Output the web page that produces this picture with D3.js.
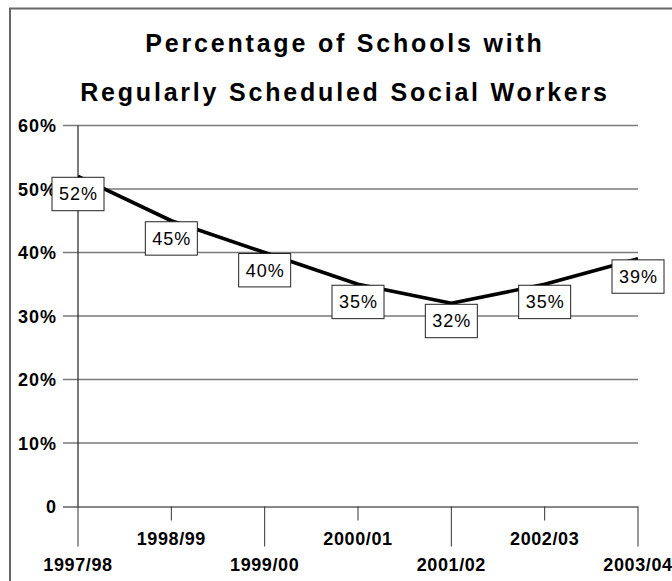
<!DOCTYPE html>
<html>
<head>
<meta charset="utf-8">
<script src="https://cdn.jsdelivr.net/npm/d3@7"></script>
<style>
  body { margin: 0; background: #fff; }
  text { font-family: "Liberation Sans", Arial, sans-serif; }
</style>
</head>
<body>
<svg id="chart" width="672" height="581"></svg>
<script>
// School years on the horizontal axis
const years = ["1997/98", "1998/99", "1999/00", "2000/01", "2001/02", "2002/03", "2003/04"];
// Share of schools with a regularly scheduled social worker (percent)
const percentages = [52, 45, 40, 35, 32, 35, 39];
// Value axis ticks (percent)
const yTicks = [0, 10, 20, 30, 40, 50, 60];
const titleLines = ["Percentage of Schools with", "Regularly Scheduled Social Workers"];

const svg = d3.select("#chart");

const x = d3.scalePoint().domain(years).range([78, 638]);
const y = d3.scaleLinear().domain([0, 60]).range([506.5, 125.5]);

// outer frame (runs off the right and bottom edges)
svg.append("rect")
  .attr("x", 10).attr("y", 8.5)
  .attr("width", 800).attr("height", 800)
  .attr("fill", "none").attr("stroke", "#666").attr("stroke-width", 2);

// title
svg.append("g").selectAll("text")
  .data(titleLines)
  .join("text")
  .attr("x", 345)
  .attr("y", (d, i) => 52 + i * 49)
  .attr("text-anchor", "middle")
  .attr("font-size", 25)
  .attr("font-weight", "bold")
  .attr("letter-spacing", "2.8px")
  .text(d => d);

// horizontal gridlines, with tick stubs left of the axis
const grid = svg.append("g");
grid.selectAll("line")
  .data(yTicks.filter(t => t > 0))
  .join("line")
  .attr("x1", 63).attr("x2", x.range()[1])
  .attr("y1", d => y(d)).attr("y2", d => y(d))
  .attr("stroke", "#7a7a7a").attr("stroke-width", 1.4);

// category axis along zero
const xAxis = d3.axisBottom(x).tickSize(0).tickFormat("");
const xg = svg.append("g")
  .attr("transform", `translate(0,${y(0)})`)
  .call(xAxis);
xg.select(".domain").attr("d", `M63,0.5H${x.range()[1]}`).attr("stroke", "#111").attr("stroke-width", 1.2);

// alternating tick lengths and two label rows
const tickG = svg.append("g");
tickG.selectAll("line")
  .data(years)
  .join("line")
  .attr("x1", d => x(d)).attr("x2", d => x(d))
  .attr("y1", y(0)).attr("y2", (d, i) => y(0) + (i % 2 === 0 ? 40 : 14))
  .attr("stroke", "#333").attr("stroke-width", 1);

svg.append("g").selectAll("text")
  .data(years)
  .join("text")
  .attr("x", d => x(d))
  .attr("y", (d, i) => i % 2 === 0 ? 570.5 : 544.5)
  .attr("text-anchor", "middle")
  .attr("font-size", 18)
  .attr("font-weight", "bold")
  .attr("letter-spacing", "0.6px")
  .text(d => d);

// value axis
svg.append("line")
  .attr("x1", 78).attr("x2", 78)
  .attr("y1", y(60)).attr("y2", y(0))
  .attr("stroke", "#222").attr("stroke-width", 1.2);

svg.append("g").selectAll("text")
  .data(yTicks)
  .join("text")
  .attr("x", 57)
  .attr("y", d => y(d) + 6.5)
  .attr("text-anchor", "end")
  .attr("font-size", 18)
  .attr("font-weight", "bold")
  .attr("letter-spacing", "1px")
  .text(d => d === 0 ? "0" : d + "%");

// trend line
const line = d3.line()
  .x((d, i) => x(years[i]))
  .y(d => y(d));

svg.append("path")
  .datum(percentages)
  .attr("d", line)
  .attr("fill", "none")
  .attr("stroke", "#000")
  .attr("stroke-width", 3.6)
  .attr("stroke-linejoin", "round");

// boxed value labels hanging just below each point
const boxW = 52, boxH = 33.4;
const labels = svg.append("g").selectAll("g")
  .data(percentages)
  .join("g")
  .attr("transform", (d, i) => `translate(${x(years[i])},${y(d) + 1})`);

labels.append("rect")
  .attr("x", -boxW / 2).attr("y", 0)
  .attr("width", boxW).attr("height", boxH)
  .attr("fill", "#fff").attr("stroke", "#222").attr("stroke-width", 1);

labels.append("text")
  .attr("x", 0.5)
  .attr("y", boxH / 2 + 6.5)
  .attr("text-anchor", "middle")
  .attr("font-size", 18)
  .attr("letter-spacing", "1px")
  .text(d => d + "%");
</script>
</body>
</html>
